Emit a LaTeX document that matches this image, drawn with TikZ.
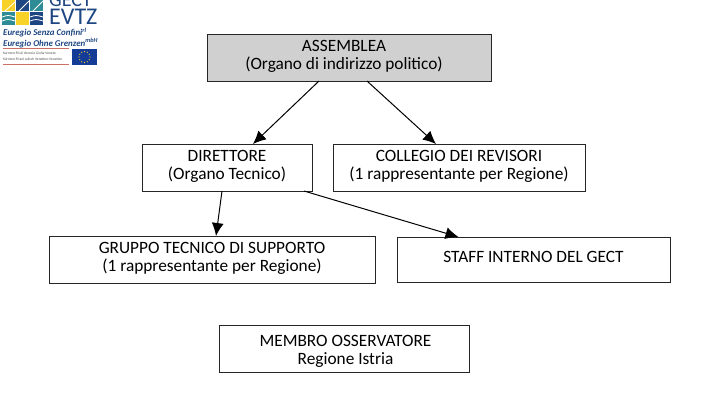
\documentclass[tikz,border=0pt]{standalone}
\usepackage{fontspec}
\setmainfont{Carlito}
\usetikzlibrary{arrows.meta,positioning}
\definecolor{logoblue}{RGB}{30,70,130}
\definecolor{logoteal}{RGB}{45,140,150}
\definecolor{logoyellow}{RGB}{248,210,40}
\definecolor{logored}{RGB}{205,110,100}
\definecolor{eublue}{RGB}{20,60,150}
\definecolor{boxgray}{RGB}{208,208,208}

\begin{document}
\begin{tikzpicture}[x=1bp,y=1bp]
	\useasboundingbox (0,0) rectangle (720,-410);
	\begin{scope}[every node/.style={rectangle,draw=black!85,line width=0.9pt,align=center,inner sep=0pt,outer sep=0pt,minimum height=47bp,text depth=5.5bp,font=\fontsize{17.3bp}{18bp}\selectfont}]
		\node[fill=boxgray,minimum width=284bp] (assemblea) at (349,-57.5) {ASSEMBLEA\hspace*{10bp}\\(Organo di indirizzo politico)\hspace*{10bp}};
		\node[minimum width=170bp] (direttore) at (227,-167.5) {DIRETTORE\\(Organo Tecnico)};
		\node[minimum width=252bp,right =21bp of direttore] (collegio) {COLLEGIO DEI REVISORI\\(1 rappresentante per Regione)};
		\node[minimum width=326bp] (gruppo) at (212,-259.5) {GRUPPO TECNICO DI SUPPORTO\\(1 rappresentante per Regione)};
		\node[minimum width=273bp,minimum height=45bp,right =22bp of gruppo] (staff) {STAFF INTERNO DEL GECT};
		\node[minimum width=250bp,text depth=4.4bp,text height=37bp] (membro) at (344,-348.5) {\hspace*{3bp}MEMBRO OSSERVATORE\\\hspace*{3bp}Regione Istria};
	\end{scope}

	\begin{scope}[line width=1pt]
	\draw[-{Latex[length=13bp,width=12bp]}] ([xshift=-30bp]assemblea.south) -- ([xshift=26bp]direttore.north);
	\draw[-{Latex[length=13bp,width=12bp]}] ([xshift=18bp]assemblea.south) -- ([xshift=-23bp]collegio.north);
	\draw[-{Latex[length=13bp,width=12bp]}] ([xshift=-5bp]direttore.south) -- ([xshift=4bp]gruppo.north);
	\draw[-{Latex[length=13bp,width=12bp]}] ([xshift=77bp]direttore.south) -- ([xshift=-75bp]staff.north);
	\end{scope}

	% logo
	\begin{scope}[every node/.style={inner sep=0pt,text=logoblue}]
		\fill[logoyellow] (2,0) rectangle (15,-11);
		\fill[logoblue] (16,0) rectangle (29,-11);
		\fill[logoteal] (30,0) rectangle (43,-11);
		\fill[logoteal] (2,-12) rectangle (15,-25);
		\fill[logoyellow] (16,-12) rectangle (29,-25);
		\fill[logoblue] (30,-12) rectangle (43,-25);
		\draw[white,line width=0.8pt] (5,-11) -- (15,-2) (19,-11) -- (29,-1) (33,-11) -- (43,-1)
			(2,-17) .. controls (8,-15) .. (15,-17) (2,-21) .. controls (8,-19) .. (15,-21)
			(30,-17) .. controls (36,-15) .. (43,-17) (30,-21) .. controls (36,-19) .. (43,-21);
		\node[anchor=west,font=\fontsize{20bp}{20bp}\selectfont] (gect) at (49,0) {GECT};
		\node[anchor=west,font=\fontsize{24bp}{24bp}\selectfont] (evtz) at (49,-17) {EVTZ};
		\node[anchor=west,font=\bfseries\itshape\fontsize{8.9bp}{9bp}\selectfont] (euregio1) at (3,-32.5) {Euregio Senza Confini\textsuperscript{rl}};
		\node[anchor=west,font=\bfseries\itshape\fontsize{8.9bp}{9bp}\selectfont] (euregio2) at (3,-43) {Euregio Ohne Grenzen\textsuperscript{mbH}};
		\node[anchor=west,text=black!70,font=\fontsize{3.6bp}{4bp}\selectfont] (region1) at (3,-53) {Karnten-Friuli Venezia Giulia-Veneto};
		\node[anchor=west,text=black!70,font=\fontsize{3.6bp}{4bp}\selectfont] (region2) at (3,-59) {Kärnten-Friaul Julisch Venetien-Venetien};
		\draw[logored,line width=1pt] (3,-48.5) -- (69,-48.5) (3,-64) -- (69,-64);
		\fill[eublue] (72,-49) rectangle (97,-65);
		\foreach \a in {0,30,...,330}
			\fill[logoyellow] (84.5,-57) ++(\a:5.5) circle (0.6);
	\end{scope}
\end{tikzpicture}
\end{document}
